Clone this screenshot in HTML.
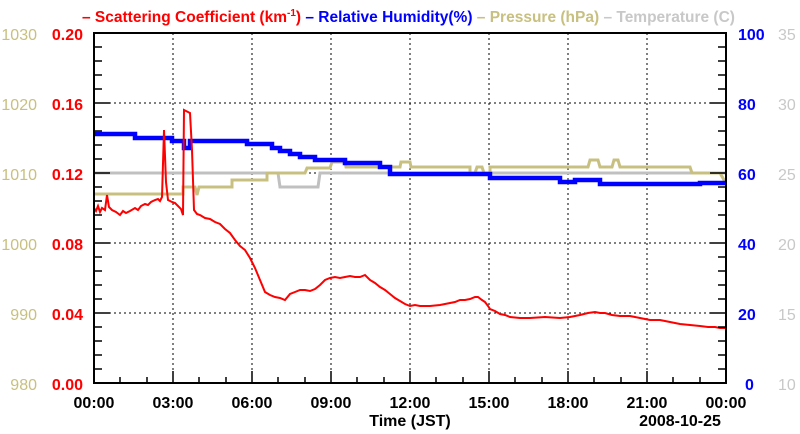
<!DOCTYPE html><html><head><style>body{margin:0;background:#fff}svg{display:block}text{font-family:"Liberation Sans",sans-serif;font-weight:bold}</style></head><body>
<svg width="800" height="434" xmlns="http://www.w3.org/2000/svg">
<g stroke="#000" stroke-dasharray="2,3" stroke-width="1">
<line x1="173" y1="33" x2="173" y2="383"/><line x1="252" y1="33" x2="252" y2="383"/><line x1="331" y1="33" x2="331" y2="383"/><line x1="410" y1="33" x2="410" y2="383"/><line x1="489" y1="33" x2="489" y2="383"/><line x1="568" y1="33" x2="568" y2="383"/><line x1="647" y1="33" x2="647" y2="383"/>
<line x1="94" y1="103" x2="726" y2="103"/><line x1="94" y1="173" x2="726" y2="173"/><line x1="94" y1="243" x2="726" y2="243"/><line x1="94" y1="313" x2="726" y2="313"/>
</g>
<polyline fill="none" stroke="#c0c0c0" stroke-width="3" points="94,173 278,173 280,187 318,187 320,173 726,173"/>
<polyline fill="none" stroke="#c8c080" stroke-width="3" points="94,194 183,194 183,187 195,187 197,195 199,187 232,187 232,180 267,180 267,173 305,173 307,168 330,168 332,162 345,162 346,167 400,167 401,162 410,162 411,167 470,167 470,173 475,173 477,167 482,167 484,173 490,173 490,167 588,167 590,160 598,160 600,167 612,167 614,160 618,160 620,167 690,167 692,173 720,173 724,180 726,180"/>
<polyline fill="none" stroke="#0000ff" stroke-width="4.5" points="94,134 135,134 135,138 172,138 172,141 184,141 184,148 190,148 190,141 247,141 247,144 272,144 272,148 280,148 280,151 290,151 290,154 300,154 300,157 315,157 315,160 345,160 345,163 380,163 380,167 390,167 390,174 490,174 490,178 560,178 560,182 575,182 575,180 600,180 600,184 700,184 700,183 726,183"/>
<polyline fill="none" stroke="#ff0000" stroke-width="2" points="94,208 96,211 98,206 100,212 102,208 105,210 107,195 109,207 112,210 116,212 120,215 123,211 126,213 130,211 135,208 138,210 141,206 145,204 148,205 151,202 155,200 158,199 160,201 162,197 164,130 166,182 168,200 172,202 175,203 178,206 181,209 183,215 184,110 186,111 188,112 190,113 192,150 194,210 197,214 200,215 205,218 210,219 215,222 220,224 225,229 230,233 235,240 240,246 245,250 250,258 255,268 260,280 265,292 270,295 275,297 280,298 285,300 290,294 295,292 300,290 305,290 310,291 315,289 320,285 325,280 330,278 335,277 340,278 345,277 350,276 355,277 360,277 365,275 370,280 375,283 380,287 385,290 390,294 395,298 400,301 405,304 410,306 415,305 420,306 425,306 430,306 440,305 450,303 455,302 460,300 465,300 470,299 475,297 478,297 482,300 485,302 488,306 490,309 495,311 500,314 505,315 510,317 520,318 530,318 545,317 560,318 570,317 580,315 588,313 595,312 600,313 605,313 612,315 620,316 630,316 640,318 645,319 650,320 660,320 665,321 675,323 680,324 690,325 700,326 708,327 715,327 720,328 726,328"/>
<rect x="94" y="33" width="632" height="350" fill="none" stroke="#000" stroke-width="2"/>
<g stroke="#000" stroke-width="1.5">
<path d="M94,47h8M94,61h8M94,75h8M94,89h8M94,103h16M94,117h8M94,131h8M94,145h8M94,159h8M94,173h16M94,187h8M94,201h8M94,215h8M94,229h8M94,243h16M94,257h8M94,271h8M94,285h8M94,299h8M94,313h16M94,327h8M94,341h8M94,355h8M94,369h8"/>
<path d="M726,47h-8M726,61h-8M726,75h-8M726,89h-8M726,103h-16M726,117h-8M726,131h-8M726,145h-8M726,159h-8M726,173h-16M726,187h-8M726,201h-8M726,215h-8M726,229h-8M726,243h-16M726,257h-8M726,271h-8M726,285h-8M726,299h-8M726,313h-16M726,327h-8M726,341h-8M726,355h-8M726,369h-8"/>
<path d="M120,383v-6M147,383v-6M173,383v-12M199,383v-6M226,383v-6M252,383v-12M278,383v-6M305,383v-6M331,383v-12M357,383v-6M384,383v-6M410,383v-12M436,383v-6M463,383v-6M489,383v-12M515,383v-6M542,383v-6M568,383v-12M594,383v-6M621,383v-6M647,383v-12M673,383v-6M700,383v-6"/>
</g>
<g font-size="16" text-anchor="end" fill="#ff0000">
<text x="83" y="40">0.20</text><text x="83" y="110">0.16</text><text x="83" y="180">0.12</text><text x="83" y="250">0.08</text><text x="83" y="320">0.04</text><text x="83" y="390">0.00</text></g>
<g font-size="16" text-anchor="end" fill="#c8c080">
<text x="37" y="40" style="font-weight:normal">1030</text><text x="37" y="110" style="font-weight:normal">1020</text><text x="37" y="180" style="font-weight:normal">1010</text><text x="37" y="250" style="font-weight:normal">1000</text><text x="37" y="320" style="font-weight:normal">990</text><text x="37" y="390" style="font-weight:normal">980</text></g>
<g font-size="16" fill="#0000ff">
<text x="738" y="40">100</text><text x="738" y="110">80</text><text x="738" y="180">60</text><text x="738" y="250">40</text><text x="738" y="320">20</text><text x="745" y="390">0</text></g>
<g font-size="16" fill="#c8c8c8">
<text x="778" y="40" style="font-weight:normal">35</text><text x="778" y="110" style="font-weight:normal">30</text><text x="778" y="180" style="font-weight:normal">25</text><text x="778" y="250" style="font-weight:normal">20</text><text x="778" y="320" style="font-weight:normal">15</text><text x="778" y="390" style="font-weight:normal">10</text></g>
<g font-size="16" text-anchor="middle" fill="#000">
<text x="94" y="408">00:00</text><text x="173" y="408">03:00</text><text x="252" y="408">06:00</text><text x="331" y="408">09:00</text><text x="410" y="408">12:00</text><text x="489" y="408">15:00</text><text x="568" y="408">18:00</text><text x="647" y="408">21:00</text><text x="726" y="408">00:00</text>
<text x="410" y="426">Time (JST)</text><text x="680" y="426">2008-10-25</text></g>
<text y="22" font-size="15.5"><tspan fill="#ff0000" x="82">– Scattering Coefficient (km</tspan><tspan fill="#ff0000" font-size="10" dy="-6">-1</tspan><tspan fill="#ff0000" dy="6">)</tspan><tspan fill="#0000ff"> – Relative Humidity(%)</tspan><tspan fill="#c8c080"> – Pressure (hPa)</tspan><tspan fill="#c8c8c8"> – Temperature (C)</tspan></text>
</svg></body></html>
